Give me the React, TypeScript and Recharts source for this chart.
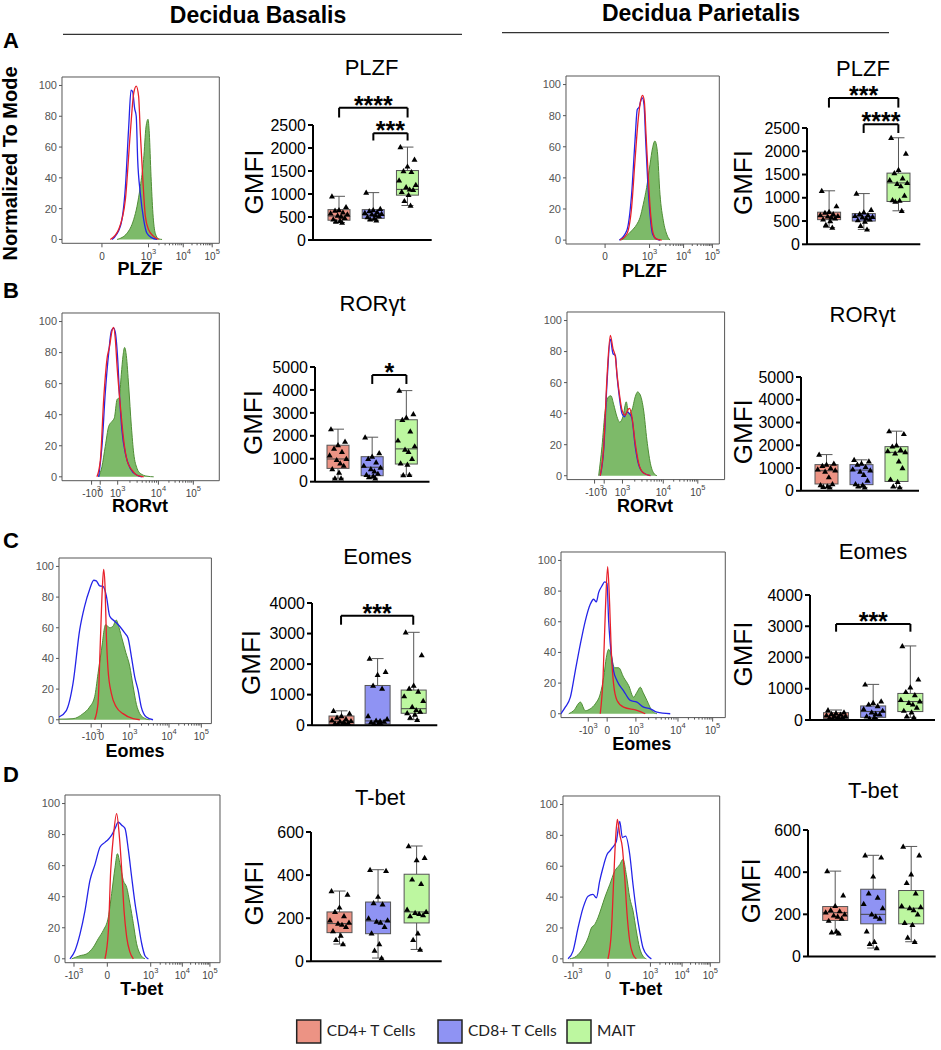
import React from 'react';
import { ComposedChart, Area, Line, Bar, XAxis, YAxis, ReferenceArea, ReferenceLine } from 'recharts';

const FONT = '"Liberation Sans", Arial, Helvetica, sans-serif';
const LEGEND_FONT = 'Lato, "Open Sans", sans-serif';

// ---------- categories / labels ----------
const cellTypes = ['CD4+ T Cells', 'CD8+ T Cells', 'MAIT'];
const cellKeys = ['CD4', 'CD8', 'MAIT'];
const cellFills = ['#EC9384', '#8F93F3', '#BDF7A0'];
const tissues = ['Decidua Basalis', 'Decidua Parietalis'];
const panelLetters = ['A', 'B', 'C', 'D'];
const markerTitles = ['PLZF', 'RORγt', 'Eomes', 'T-bet'];
const histAxisLabels = ['PLZF', 'RORvt', 'Eomes', 'T-bet'];
const histYTicks = [0, 20, 40, 60, 80, 100];

// ---------- histogram x-axis major ticks (position on 0-100 display scale, label) ----------
const ticksPlzfBas: [number, string][] = [[25.4, '0'], [55, '10^3'], [77.1, '10^4'], [95.5, '10^5']];
const ticksPlzfPar: [number, string][] = [[25.5, '0'], [54.5, '10^3'], [76.7, '10^4'], [95.5, '10^5']];
const ticksRorBas: [number, string][] = [[18.8, '-10^3'], [24.3, '0'], [35.4, '10^3'], [61.3, '10^4'], [83.5, '10^5']];
const ticksRorPar: [number, string][] = [[17.5, '-10^3'], [23.6, '0'], [35.2, '10^3'], [61.1, '10^4'], [83, '10^5']];
const ticksEomBas: [number, string][] = [[21.1, '-10^3'], [27.8, '0'], [46.4, '10^3'], [72.2, '10^4'], [93.4, '10^5']];
const ticksEomPar: [number, string][] = [[16.6, '-10^3'], [28.1, '0'], [45.6, '10^3'], [71.2, '10^4'], [92.3, '10^5']];
const ticksTbetBas: [number, string][] = [[5.8, '-10^3'], [27.3, '0'], [55.3, '10^3'], [75.7, '10^4'], [93.5, '10^5']];
const ticksTbetPar: [number, string][] = [[6.4, '-10^3'], [28.7, '0'], [55.8, '10^3'], [76, '10^4'], [94, '10^5']];

// ---------- histogram curves: [display position, % of mode] ----------
type Pair = [number, number];
const hPlzfBasCD4: Pair[] = [[30.7,0],[36,6.5],[40.3,26],[43.4,69],[45.6,95],[47.2,99.6],[48.7,93],[49.8,69],[51.5,37],[53,15],[55,6.5],[58.3,2],[61.4,0]];
const hPlzfBasCD8: Pair[] = [[31.8,0],[37.1,8.6],[40.3,34],[42.4,73],[43.9,97],[44.9,96],[46.2,85],[47.2,80],[48.1,52],[49.8,30],[51.9,13],[54,4],[57.2,1],[60.4,0]];
const hPlzfBasMAIT: Pair[] = [[35,0],[41.3,4],[45.6,13],[47.7,21.5],[49.8,34.5],[51.9,52],[53.4,73],[54.7,78],[55.5,69],[56.6,41],[57.8,17],[59.3,4],[61.4,0.4],[63.6,0]];

const hPlzfParCD4: Pair[] = [[35.2,0],[39.6,3.8],[42.8,21],[45,51],[47.2,78.6],[48.7,89.7],[50,93],[51.1,89],[52.2,68],[53.7,40],[55.2,16.7],[57,3.8],[59.1,0.6],[62.4,0]];
const hPlzfParCD8: Pair[] = [[34.8,0],[39.6,6],[42.8,29.5],[45,63.7],[46.5,84],[47.8,85.5],[48.7,89.3],[49.8,91.5],[50.9,87],[52,63.7],[53.3,38],[54.8,16.7],[56.5,3.8],[59.1,0.6],[61.3,0]];
const hPlzfParMAIT: Pair[] = [[36.3,0],[39.6,2.8],[42.8,6],[46.1,10],[48.3,14.5],[50.4,23],[52.6,33.8],[54.8,48.7],[56.5,59.4],[58,63.7],[59.6,57],[61.3,29.5],[63.5,12.4],[65.7,3.8],[67.8,0]];

const hRorBasCD4: Pair[] = [[22.2,0],[24.4,10.8],[26.5,50],[28.6,75.8],[30.3,84.4],[31.8,94],[32.8,96.3],[33.9,88.7],[35,71.4],[37.1,45.5],[39.2,23.8],[41.3,10.8],[44.5,4.3],[47.7,1],[51.9,0]];
const hRorBasCD8: Pair[] = [[23.3,0],[25.4,19.5],[27.5,54],[29.7,80],[31.4,94],[32.8,95.7],[33.9,93],[35.4,75.8],[36.7,50],[38.1,30],[40.3,15],[43.4,5.4],[47.7,1],[50.8,0]];
const hRorBasMAIT: Pair[] = [[23.3,0],[25.4,6.5],[27.5,19.5],[29.7,32.5],[31.8,35.7],[33.3,38],[35,49.8],[36.4,51],[37.7,66],[38.8,78],[39.8,83.3],[40.9,78],[42.4,58.4],[44.1,32.5],[45.6,15],[47.7,5.4],[49.8,2.2],[54,0.4],[58.3,0]];

const hRorParCD4: Pair[] = [[21.1,0],[23.3,18.8],[25.4,63.7],[27.5,90.4],[29.2,81.8],[30.7,76.5],[31.7,65.8],[33.2,53],[34.9,42.3],[37,39],[38.5,42.3],[39.7,43.4],[41.2,38],[43.3,21],[45.5,8],[48.6,1.7],[52.9,0]];
const hRorParCD8: Pair[] = [[21.1,0],[23.3,17],[25.4,60],[27.5,88],[29.2,78.6],[30.7,77.6],[31.7,64.7],[33.2,50.9],[34.9,40],[36.4,38],[38.1,41],[39.7,40],[41.2,37],[43.3,18.8],[45.5,7],[48.6,1.7],[52.9,0]];
const hRorParMAIT: Pair[] = [[20.1,0],[22.2,18.8],[24.3,42.3],[26.4,50.9],[27.9,51.5],[29.6,46],[31.7,38],[33.4,34.5],[35.5,38],[37.6,47.6],[39.1,40],[41.2,42.3],[43.3,50.9],[44.8,54],[46.5,52],[48.6,42.3],[50.7,23],[52.9,8],[55,1.7],[57.1,0]];

const hEomBasCD4: Pair[] = [[23.4,0],[25.6,10.5],[27.1,50],[28.4,85],[29.3,98],[30.2,87],[31.1,54.4],[32.2,32.5],[34.4,17],[37.6,8.3],[42,4],[48.6,0.7],[53,0]];
const hEomBasCD8: Pair[] = [[0,1.8],[4.8,6],[9.2,23.7],[13.6,58.8],[16.8,74],[20.1,85],[22.8,91],[24.5,90.6],[26.7,87.3],[28.9,87],[31.1,80.7],[33.3,67.5],[36.5,64.3],[39.8,61],[43.1,56.6],[45.3,53.3],[47.5,41.2],[49.7,28],[51.9,19.3],[54,8.3],[57.3,1.8],[61.7,0]];
const hEomBasMAIT: Pair[] = [[0,0.4],[9.2,0.7],[15.8,4],[20.1,8.3],[23.4,15],[25.6,30],[27.8,45],[30.6,62],[33.3,60],[35.4,61],[37.6,65],[39.4,60],[41.6,52],[43.8,44],[46.4,35],[48.6,22],[50.8,10],[53,4],[56.2,1],[59.5,0]];

const hEomParCD4: Pair[] = [[23.9,0],[25.6,23.8],[27,67],[28.4,96],[29.6,71.4],[30.6,41],[32,19.5],[34.1,8.7],[38.1,4.3],[46.2,2.2],[51.3,0]];
const hEomParCD8: Pair[] = [[0,0],[2.6,4.3],[5.7,10.8],[8.7,28],[11.8,45.5],[14.8,60.6],[17.8,71.4],[19.9,74.7],[21.5,73],[22.9,79],[24.9,83.3],[26.6,86],[28,85],[29,60.6],[30,45.5],[32,28],[34.1,21.6],[38.1,15],[42.2,8.7],[46.2,7.6],[50.3,4.3],[54.4,3.2],[58.4,1],[66.5,0]];
const hEomParMAIT: Pair[] = [[4.7,0],[7.7,2],[11.8,7.6],[14.8,2],[17.8,3.2],[20.9,6.5],[23.9,13],[26,23.8],[27.6,36.8],[29,42],[30.4,39],[32.5,30],[35.1,30],[38.1,23.8],[41.2,18.4],[44.2,10.8],[46.2,14],[48.3,17.3],[49.9,14],[52.3,8.7],[55.4,2],[58.4,0]];

const hTbetBasCD4: Pair[] = [[25.8,0],[28,18.3],[29.5,57],[31.2,78.5],[33.3,93.5],[35.1,78.5],[36.6,57],[38.1,31],[39.8,14],[41.9,4.3],[44.1,0]];
const hTbetBasCD8: Pair[] = [[3.2,0],[6.5,5.4],[9.7,16],[12.9,31],[16.1,50.5],[19.4,61],[22.6,72],[25.8,75],[28,77],[30.1,79.6],[32.3,84],[34.4,88],[36.6,86],[38.7,84],[40.9,70],[43,52.7],[45.2,35.5],[47.3,22.6],[49.5,9.7],[51.6,2],[53.8,0]];
const hTbetBasMAIT: Pair[] = [[4.3,0],[9.7,2],[14,3.2],[18.3,7.5],[21.5,13],[24.7,18.3],[28,27],[30.1,42],[32.3,59],[33.8,67.7],[35.5,61],[37.6,50.5],[39.8,46],[41.9,35.5],[44.1,22.6],[46.2,9.7],[48.4,3.2],[51.6,0]];

const hTbetParCD4: Pair[] = [[28.7,0],[30.9,18],[32.3,50],[33.6,78.4],[34.7,90.3],[36.2,80.6],[37.9,72],[39.4,52.5],[40.9,28.7],[42.6,11.4],[44.7,2.8],[46.8,0]];
const hTbetParCD8: Pair[] = [[3.2,0],[6.4,5],[9.6,20],[12.8,33],[16,40.6],[19.1,41.7],[21.3,39.5],[23.4,50.3],[25.5,59],[28.1,67.6],[29.8,69.8],[31.5,72],[34,76],[36.2,89],[37.9,78.6],[40,79.5],[42.6,67.6],[44.7,48],[46.8,31],[48.9,18],[51.1,7],[54.3,1.7],[56.4,0]];
const hTbetParMAIT: Pair[] = [[4.3,0],[8.5,1.7],[12.8,7],[16,13.6],[18.1,20],[20.2,22.2],[22.3,26.6],[24.5,33],[26.6,39.5],[29.8,48],[33,56.8],[36.2,61],[38.3,64.4],[40.4,54.6],[42.6,39.5],[44.7,31],[46.8,18],[48.9,7],[51.1,1.7],[53.2,0]];

// ---------- box plot summaries [min, Q1, median, Q3, max] per cell type ----------
const statsPlzfBas = [[380,430,520,660,950],[430,470,540,660,1030],[750,975,1100,1510,2020]];
const statsPlzfPar = [[360,530,600,690,1150],[320,500,590,660,1090],[720,920,1320,1530,2290]];
const statsRorBas = [[150,580,990,1590,2290],[150,260,630,1090,1940],[290,770,1430,2700,3970]];
const statsRorPar = [[150,300,880,1150,1590],[150,270,910,1150,1360],[150,410,1690,1940,2620]];
const statsEomBas = [[20,30,130,300,470],[20,40,140,1300,2180],[180,390,540,1150,3040]];
const statsEomPar = [[20,50,130,235,320],[20,85,270,450,1140],[85,270,590,850,2370]];
const statsTbetBas = [[80,133,175,229,326],[15,128,187,275,425],[55,178,229,404,535]];
const statsTbetPar = [[110,171,208,237,405],[40,155,200,319,480],[70,155,229,313,522]];

// ---------- individual donors (GMFI) ----------
const ptsPlzfBas = [
  [950,720,650,640,600,580,560,530,510,480,450,420,400,380],
  [1030,680,650,630,610,590,570,560,540,520,500,470,450,430],
  [2020,1750,1600,1500,1480,1300,1200,1150,1100,1090,1050,980,850,750],
];
const ptsPlzfPar = [
  [1150,820,700,680,650,630,610,600,580,560,540,500,420,360],
  [1090,740,690,650,630,610,590,580,560,540,520,490,400,320],
  [2290,1950,1600,1530,1420,1380,1320,1300,1250,1050,950,940,920,720],
];
const ptsRorBas = [
  [2290,1750,1600,1450,1300,1150,1000,950,800,700,550,400,150,150],
  [1940,1250,1100,1000,850,700,620,550,450,350,300,250,200,150],
  [3970,2950,2800,2700,2200,1800,1550,1400,1300,1000,800,750,290,300],
];
const ptsRorPar = [
  [1590,1200,1150,1100,1000,950,900,850,600,300,250,200,180,150],
  [1360,1300,1200,1150,1050,950,900,850,700,450,300,250,200,150],
  [2620,2500,2000,1950,1800,1750,1700,1650,1300,1000,500,400,200,150],
];
const ptsEomBas = [
  [470,380,300,250,200,160,140,120,100,80,60,50,40,20],
  [2180,1750,1650,1300,1200,300,200,150,140,120,100,80,50,20],
  [3040,2300,1300,1200,1100,950,800,600,500,450,400,350,250,180],
];
const ptsEomPar = [
  [320,250,220,200,180,150,130,120,100,90,70,60,50,20],
  [1140,600,550,500,450,350,300,250,200,180,120,90,50,20],
  [2370,1300,1050,900,800,650,600,550,500,400,300,250,120,85],
];
const ptsTbetBas = [
  [326,310,250,230,210,190,180,175,170,160,140,120,100,80],
  [425,420,300,270,265,200,190,185,180,160,130,80,50,15],
  [535,480,470,380,360,240,230,225,220,215,210,130,100,55],
];
const ptsTbetPar = [
  [405,290,240,220,215,210,200,195,190,180,170,120,115,110],
  [480,470,380,300,280,250,230,200,190,180,120,70,60,40],
  [522,480,390,350,300,240,235,230,220,200,160,150,90,70],
];

// ---------- y-axis ticks ----------
const ticks2500 = [0, 500, 1000, 1500, 2000, 2500];
const ticks5000 = [0, 1000, 2000, 3000, 4000, 5000];
const ticks4000 = [0, 1000, 2000, 3000, 4000];
const ticks600 = [0, 200, 400, 600];

// ---------- significance brackets: from/to category index, bracket height, leg end (GMFI) ----------
const sigPlzfBas = [{ from: 0, to: 2, y: 2874, leg: 2663, text: '****' }, { from: 1, to: 2, y: 2322, leg: 2163, text: '***' }];
const sigPlzfPar = [{ from: 0, to: 2, y: 3145, leg: 2939, text: '***' }, { from: 1, to: 2, y: 2580, leg: 2393, text: '****' }];
const sigRorBas = [{ from: 1, to: 2, y: 4652, leg: 4260, text: '*' }];
const sigRorPar: any[] = [];
const sigEomBas = [{ from: 0, to: 2, y: 3584, leg: 3289, text: '***' }];
const sigEomPar = [{ from: 0, to: 2, y: 3072, leg: 2826, text: '***' }];
const sigTbetBas: any[] = [];
const sigTbetPar: any[] = [];

// ================= layout =================
const HIST_Y_DOMAIN: [number, number] = [-2.5, 105.5];

const histPanels = [
  { box: [61.7, 76.7, 219, 243], ticks: ticksPlzfBas, cd4: hPlzfBasCD4, cd8: hPlzfBasCD8, mait: hPlzfBasMAIT },
  { box: [566, 76, 719.3, 244], ticks: ticksPlzfPar, cd4: hPlzfParCD4, cd8: hPlzfParCD8, mait: hPlzfParMAIT },
  { box: [61.7, 313, 219, 480.7], ticks: ticksRorBas, cd4: hRorBasCD4, cd8: hRorBasCD8, mait: hRorBasMAIT },
  { box: [566.7, 311.7, 724.3, 479.3], ticks: ticksRorPar, cd4: hRorParCD4, cd8: hRorParCD8, mait: hRorParMAIT },
  { box: [59.3, 557.7, 211.7, 723.3], ticks: ticksEomBas, cd4: hEomBasCD4, cd8: hEomBasCD8, mait: hEomBasMAIT },
  { box: [560.7, 551.7, 725, 717.3], ticks: ticksEomPar, cd4: hEomParCD4, cd8: hEomParCD8, mait: hEomParMAIT },
  { box: [65, 795, 220, 962.7], ticks: ticksTbetBas, cd4: hTbetBasCD4, cd8: hTbetBasCD8, mait: hTbetBasMAIT },
  { box: [563.3, 796, 720, 962.7], ticks: ticksTbetPar, cd4: hTbetParCD4, cd8: hTbetParCD8, mait: hTbetParMAIT },
];

const boxPanels = [
  { axX: 313.3, yTop: 124.5, y0: 239.5, axR: 432, max: 2500, yTicks: ticks2500, padL: 9, padR: 7, barSize: 22, stats: statsPlzfBas, pts: ptsPlzfBas, sig: sigPlzfBas },
  { axX: 806.7, yTop: 127.7, y0: 244, axR: 920, max: 2500, yTicks: ticks2500, padL: 4.6, padR: 4.6, barSize: 23, stats: statsPlzfPar, pts: ptsPlzfPar, sig: sigPlzfPar },
  { axX: 314.5, yTop: 367, y0: 481.7, axR: 429, max: 5000, yTicks: ticks5000, padL: 6, padR: 6, barSize: 22, stats: statsRorBas, pts: ptsRorBas, sig: sigRorBas },
  { axX: 801, yTop: 376.7, y0: 490.5, axR: 919, max: 5000, yTicks: ticks5000, padL: 8, padR: 5, barSize: 23, stats: statsRorPar, pts: ptsRorPar, sig: sigRorPar },
  { axX: 311.7, yTop: 603.3, y0: 725.5, axR: 437, max: 4000, yTicks: ticks4000, padL: 11, padR: 6, barSize: 25, stats: statsEomBas, pts: ptsEomBas, sig: sigEomBas },
  { axX: 810, yTop: 595, y0: 720, axR: 935, max: 4000, yTicks: ticks4000, padL: 7.5, padR: 6, barSize: 25, stats: statsEomPar, pts: ptsEomPar, sig: sigEomPar },
  { axX: 311, yTop: 831.7, y0: 961, axR: 441.7, max: 600, yTicks: ticks600, padL: 9, padR: 6, barSize: 25, stats: statsTbetBas, pts: ptsTbetBas, sig: sigTbetBas },
  { axX: 808.3, yTop: 830, y0: 956.5, axR: 936, max: 600, yTicks: ticks600, padL: 7.7, padR: 6, barSize: 25, stats: statsTbetPar, pts: ptsTbetPar, sig: sigTbetPar },
];

// text placement (x, baseline y)
const headerPos = [[258, 22.5], [701, 21]];
const headerLines = [[63, 462, 34.3], [502, 889, 32.7]];
const letterPos = [[3, 48], [3, 298], [3, 548], [3, 782]];
const histLabelPos = [[140, 275], [644.5, 276.5], [140, 511.7], [645, 511.7], [135, 757], [641.7, 750], [141.7, 995], [640.7, 995]];
const boxTitlePos = [[371.6, 75], [863, 76], [372.5, 311], [862.5, 322], [377.5, 564], [873, 559], [380, 805], [873, 798]];
const gmfiPos = [[263, 182], [751.7, 182.5], [261.7, 422.5], [751.7, 431.7], [260, 662.5], [751.7, 654], [263, 893], [760, 890.7]];
const legendSwatchX = [296.7, 438, 567];

const toPts = (arr: Pair[]) => arr.map(([x, y]) => ({ x, y }));

function renderTickLabel(s: string, x: number, y: number) {
  const parts = s.split('^');
  return (
    <text x={x} y={y} textAnchor="middle" fontSize={10} fill="#444" fontFamily={FONT}>
      {parts[0]}
      {parts[1] ? <tspan dy={-6} fontSize={7.5}>{parts[1]}</tspan> : null}
    </text>
  );
}

function Histogram({ panel }: { panel: any }) {
  const [L, T, R, B] = panel.box;
  const yW = 40, mt = 5, mr = 5, xH = 30;
  const w = yW + (R - L) + mr;
  const h = mt + (B - T) + xH;
  const majors: [number, string][] = panel.ticks;
  const labelMap = new Map<number, string>();
  majors.forEach(([v, l]) => labelMap.set(v, l));
  const dec = (lab: string) => majors.find((m) => m[1] === lab)?.[0];
  const d3 = dec('10^3'), d4 = dec('10^4'), d5 = dec('10^5');
  const minors: number[] = [];
  if (d3 !== undefined && d4 !== undefined && d5 !== undefined) {
    [[d3, d4], [d4, d5]].forEach(([a, b]) => {
      for (let k = 2; k <= 9; k++) minors.push(a + Math.log10(k) * (b - a));
    });
  }
  const allTicks = [...majors.map((m) => m[0]), ...minors].sort((a, b) => a - b);
  const tickFn = (p: any) => {
    const lab = labelMap.get(p.payload.value);
    return (
      <g>
        <line x1={p.x} x2={p.x} y1={p.y} y2={p.y + (lab !== undefined ? 4 : 2)} stroke="#555" strokeWidth={1} />
        {lab !== undefined ? renderTickLabel(lab, p.x, p.y + 16.5) : null}
      </g>
    );
  };
  return (
    <div style={{ position: 'absolute', left: L - yW, top: T - mt }}>
      <ComposedChart width={w} height={h} margin={{ top: mt, right: mr, left: 0, bottom: 0 }}>
        <XAxis type="number" dataKey="x" domain={[0, 100]} ticks={allTicks} interval={0} tick={tickFn}
          tickLine={false} tickSize={0} tickMargin={0} axisLine={false} height={xH} allowDataOverflow />
        <YAxis type="number" domain={HIST_Y_DOMAIN} ticks={histYTicks} interval={0} width={yW} tickSize={3} tickMargin={2}
          tick={{ fontSize: 11, fill: '#555', fontFamily: FONT }} axisLine={false} tickLine={{ stroke: '#555' }} allowDataOverflow />
        <Area data={toPts(panel.mait)} dataKey="y" type="monotone" fill="#7DBA69" fillOpacity={1} stroke="#4E8D35" strokeWidth={1} isAnimationActive={false} dot={false} activeDot={false} />
        <Line data={toPts(panel.cd8)} dataKey="y" type="monotone" stroke="#2424E8" strokeWidth={1.3} dot={false} activeDot={false} isAnimationActive={false} />
        <Line data={toPts(panel.cd4)} dataKey="y" type="monotone" stroke="#E8202A" strokeWidth={1.3} dot={false} activeDot={false} isAnimationActive={false} />
        <ReferenceArea x1={0} x2={100} y1={HIST_Y_DOMAIN[0]} y2={HIST_Y_DOMAIN[1]} fill="none" fillOpacity={0} stroke="#555" strokeWidth={1} ifOverflow="visible" />
      </ComposedChart>
    </div>
  );
}

const JITTER = [-0.32, 0.32, 0, -0.18, 0.18, -0.38, 0.38, -0.06, 0.1, 0.26, -0.26, 0.05, -0.14, 0.14];

function BoxShape(props: any) {
  const { x, y, width, height, payload } = props;
  if (!payload || !payload.stats) return null;
  const [mn, q1, md, q3, mx] = payload.stats;
  const top = Math.min(y, y + height);
  const bot = Math.max(y, y + height);
  const k = (bot - top) / (mx - mn);
  const py = (v: number) => bot - (v - mn) * k;
  const cx = x + width / 2;
  const cap = 6;
  const st = '#555';
  return (
    <g>
      <line x1={cx} x2={cx} y1={py(mx)} y2={py(q3)} stroke={st} strokeWidth={1} />
      <line x1={cx} x2={cx} y1={py(q1)} y2={py(mn)} stroke={st} strokeWidth={1} />
      <line x1={cx - cap} x2={cx + cap} y1={py(mx)} y2={py(mx)} stroke={st} strokeWidth={1} />
      <line x1={cx - cap} x2={cx + cap} y1={py(mn)} y2={py(mn)} stroke={st} strokeWidth={1} />
      <rect x={x} y={py(q3)} width={width} height={Math.max(0.5, py(q1) - py(q3))} fill={payload.fill} stroke={st} strokeWidth={1} />
      <line x1={x} x2={x + width} y1={py(md)} y2={py(md)} stroke="#444" strokeWidth={1} />
      {payload.pts.map((v: number, i: number) => {
        const px = cx + JITTER[i % JITTER.length] * width;
        const yy = py(v);
        return <path key={i} d={`M${px},${yy - 3} L${px + 3},${yy + 2.2} L${px - 3},${yy + 2.2} Z`} fill="#000" />;
      })}
    </g>
  );
}

function BoxPlot({ panel }: { panel: any }) {
  const yW = 56, mt = 60, mr = 4, xH = 14;
  const w = yW + (panel.axR - panel.axX) + mr;
  const h = mt + (panel.y0 - panel.yTop) + xH;
  const data = cellKeys.map((k, i) => ({
    name: k,
    range: [panel.stats[i][0], panel.stats[i][4]],
    stats: panel.stats[i],
    pts: panel.pts[i],
    fill: cellFills[i],
  }));
  return (
    <div style={{ position: 'absolute', left: panel.axX - yW, top: panel.yTop - mt }}>
      <ComposedChart width={w} height={h} data={data} margin={{ top: mt, right: mr, left: 0, bottom: 0 }}>
        <XAxis dataKey="name" type="category" tick={false} tickLine={false} axisLine={{ stroke: '#000', strokeWidth: 2 }}
          padding={{ left: panel.padL, right: panel.padR }} height={xH} />
        <YAxis type="number" domain={[0, panel.max]} ticks={panel.yTicks} interval={0} width={yW} tickSize={5} tickMargin={2}
          axisLine={{ stroke: '#000', strokeWidth: 2 }} tickLine={{ stroke: '#000', strokeWidth: 2 }}
          tick={{ fontSize: 16, fill: '#000', fontFamily: FONT }} allowDataOverflow />
        <Bar dataKey="range" barSize={panel.barSize} shape={(p: any) => <BoxShape {...p} />} isAnimationActive={false} />
        {panel.sig.map((b: any, i: number) => (
          <ReferenceLine key={`h${i}`} segment={[{ x: cellKeys[b.from], y: b.y }, { x: cellKeys[b.to], y: b.y }]}
            stroke="#000" strokeWidth={2} ifOverflow="visible"
            label={{ value: b.text, position: 'top', offset: -6, fontSize: 25, fontWeight: 700, fill: '#000', fontFamily: FONT }} />
        ))}
        {panel.sig.map((b: any, i: number) => (
          <ReferenceLine key={`l${i}`} segment={[{ x: cellKeys[b.from], y: b.y }, { x: cellKeys[b.from], y: b.leg }]}
            stroke="#000" strokeWidth={2} ifOverflow="visible" />
        ))}
        {panel.sig.map((b: any, i: number) => (
          <ReferenceLine key={`r${i}`} segment={[{ x: cellKeys[b.to], y: b.y }, { x: cellKeys[b.to], y: b.leg }]}
            stroke="#000" strokeWidth={2} ifOverflow="visible" />
        ))}
      </ComposedChart>
    </div>
  );
}

function Overlay() {
  return (
    <svg width={941} height={1050} style={{ position: 'absolute', left: 0, top: 0, pointerEvents: 'none' }}>
      {tissues.map((t, i) => (
        <text key={t} x={headerPos[i][0]} y={headerPos[i][1]} textAnchor="middle" fontFamily={FONT} fontWeight={700} fontSize={23} fill="#000">{t}</text>
      ))}
      {headerLines.map((l, i) => (
        <line key={i} x1={l[0]} x2={l[1]} y1={l[2]} y2={l[2]} stroke="#333" strokeWidth={1.3} />
      ))}
      {panelLetters.map((p, i) => (
        <text key={p} x={letterPos[i][0]} y={letterPos[i][1]} fontFamily={FONT} fontWeight={700} fontSize={22} fill="#000">{p}</text>
      ))}
      <text x={17} y={163.5} transform="rotate(-90 17 163.5)" textAnchor="middle" fontFamily={FONT} fontWeight={700} fontSize={20} fill="#000">Normalized To Mode</text>
      {histLabelPos.map((p, i) => (
        <text key={`hl${i}`} x={p[0]} y={p[1]} textAnchor="middle" fontFamily={FONT} fontWeight={700} fontSize={18} fill="#000">{histAxisLabels[Math.floor(i / 2)]}</text>
      ))}
      {boxTitlePos.map((p, i) => (
        <text key={`bt${i}`} x={p[0]} y={p[1]} textAnchor="middle" fontFamily={FONT} fontSize={22} fill="#000">{markerTitles[Math.floor(i / 2)]}</text>
      ))}
      {gmfiPos.map((p, i) => (
        <text key={`g${i}`} x={p[0]} y={p[1]} transform={`rotate(-90 ${p[0]} ${p[1]})`} textAnchor="middle" fontFamily={FONT} fontSize={26} fill="#000">GMFI</text>
      ))}
      {cellTypes.map((c, i) => (
        <g key={c}>
          <rect x={legendSwatchX[i]} y={1020} width={24} height={23} fill={cellFills[i]} stroke="#222" strokeWidth={1.5} />
          <text x={legendSwatchX[i] + 30} y={1036} fontFamily={LEGEND_FONT} fontSize={15.5} fill="#222">{c}</text>
        </g>
      ))}
    </svg>
  );
}

export default function App() {
  return (
    <div style={{ position: 'absolute', left: 0, top: 0, width: 941, height: 1050, background: '#fff', overflow: 'hidden' }}>
      {histPanels.map((p, i) => <Histogram key={`h${i}`} panel={p} />)}
      {boxPanels.map((p, i) => <BoxPlot key={`b${i}`} panel={p} />)}
      <Overlay />
    </div>
  );
}
